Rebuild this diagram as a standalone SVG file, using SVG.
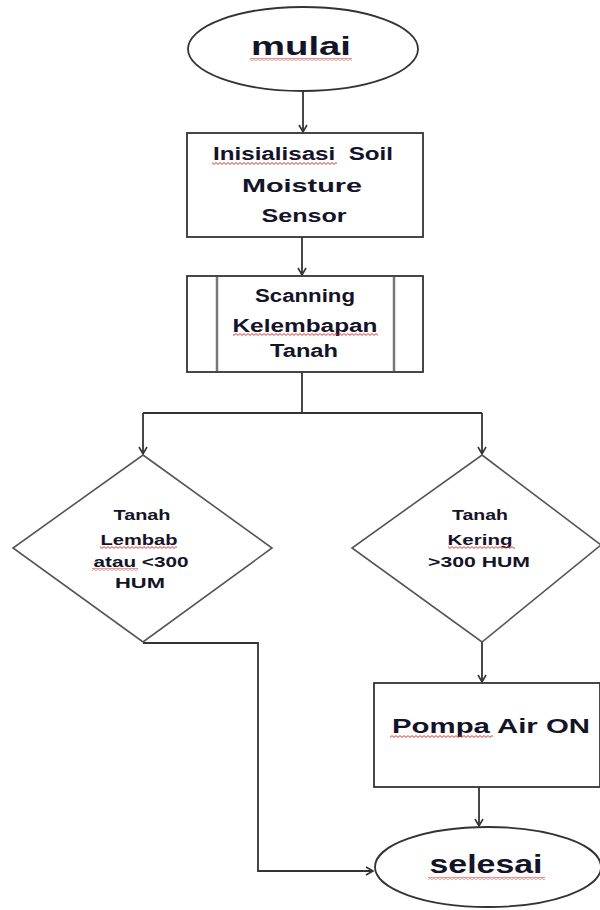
<svg xmlns="http://www.w3.org/2000/svg" width="600" height="910" viewBox="0 0 600 910">
<style>
.shape{fill:#fff;stroke:#333;stroke-width:1.8}
.dia{fill:#fff;stroke:#555;stroke-width:1.6}
.inner{stroke:#777;stroke-width:2.5}
.conn{fill:none;stroke:#333;stroke-width:1.8}
text{font-family:"Liberation Sans",Arial,sans-serif;font-weight:bold;fill:#141428;text-anchor:middle;white-space:pre}
.t1{font-size:25px}
.t2{font-size:18px}
.t3{font-size:14px}
.t4{font-size:20px}
.sq{fill:url(#squig)}
</style>
<defs>
<marker id="arr" markerWidth="12" markerHeight="12" refX="8" refY="5" orient="auto" markerUnits="userSpaceOnUse">
<path d="M1,1 L8,5 L1,9" fill="none" stroke="#333" stroke-width="1.6"/>
</marker>
<pattern id="squig" width="4" height="3" patternUnits="userSpaceOnUse">
<path d="M0,0.6 L2,2.4 L4,0.6" fill="none" stroke="#e02020" stroke-width="0.9"/>
</pattern>
</defs>
<g id="connectors">
<path class="conn" d="M303,91 V132" marker-end="url(#arr)"/>
<path class="conn" d="M302,237 V275" marker-end="url(#arr)"/>
<path class="conn" d="M302,372 V413 M143,413 H482"/>
<path class="conn" d="M143,413 V454" marker-end="url(#arr)"/>
<path class="conn" d="M482,413 V454" marker-end="url(#arr)"/>
<path class="conn" d="M482,642 V682" marker-end="url(#arr)"/>
<path class="conn" d="M479,787 V826" marker-end="url(#arr)"/>
<path class="conn" d="M143,643 H258 V871 H373" marker-end="url(#arr)"/>
</g>
<g id="mulai">
<ellipse class="shape" cx="303" cy="49" rx="115" ry="42"/>
<text class="t1" x="301" y="55" textLength="100" lengthAdjust="spacingAndGlyphs">mulai</text>
<rect class="sq" x="250" y="58" width="102" height="3"/>
</g>
<g id="inisialisasi">
<rect class="shape" x="187" y="133" width="236" height="104"/>
<text class="t2" x="303" y="160" textLength="180" lengthAdjust="spacingAndGlyphs" xml:space="preserve">Inisialisasi  Soil</text>
<text class="t2" x="302" y="192" textLength="120" lengthAdjust="spacingAndGlyphs">Moisture</text>
<text class="t2" x="304" y="222" textLength="85" lengthAdjust="spacingAndGlyphs">Sensor</text>
<rect class="sq" x="212" y="162" width="125" height="3"/>
</g>
<g id="scanning">
<rect class="shape" x="187" y="276" width="236" height="96"/>
<line class="inner" x1="217" y1="277" x2="217" y2="371"/>
<line class="inner" x1="394" y1="277" x2="394" y2="371"/>
<text class="t2" x="305" y="302" textLength="100" lengthAdjust="spacingAndGlyphs">Scanning</text>
<text class="t2" x="305" y="332" textLength="145" lengthAdjust="spacingAndGlyphs">Kelembapan</text>
<text class="t2" x="304" y="357" textLength="68" lengthAdjust="spacingAndGlyphs">Tanah</text>
<rect class="sq" x="233" y="333" width="145" height="3"/>
</g>
<g id="lembab">
<polygon class="dia" points="143,455 272,548 143,642 13,548"/>
<text class="t3" x="142" y="520" textLength="57" lengthAdjust="spacingAndGlyphs">Tanah</text>
<text class="t3" x="139" y="545" textLength="77" lengthAdjust="spacingAndGlyphs">Lembab</text>
<text class="t3" x="141" y="567" textLength="95" lengthAdjust="spacingAndGlyphs">atau &lt;300</text>
<text class="t3" x="140" y="588" textLength="50" lengthAdjust="spacingAndGlyphs">HUM</text>
<rect class="sq" x="100" y="546" width="77" height="3"/>
<rect class="sq" x="92" y="568" width="46" height="3"/>
</g>
<g id="kering">
<polygon class="dia" points="482,455 601,545 482,642 352,548"/>
<text class="t3" x="480" y="520" textLength="56" lengthAdjust="spacingAndGlyphs">Tanah</text>
<text class="t3" x="480" y="545" textLength="65" lengthAdjust="spacingAndGlyphs">Kering</text>
<text class="t3" x="479" y="567" textLength="102" lengthAdjust="spacingAndGlyphs">&gt;300 HUM</text>
<rect class="sq" x="448" y="546" width="67" height="3"/>
</g>
<g id="pompa">
<rect class="shape" x="374" y="683" width="226" height="104"/>
<text class="t4" x="491" y="733" textLength="198" lengthAdjust="spacingAndGlyphs">Pompa Air ON</text>
<rect class="sq" x="390" y="735" width="103" height="3"/>
</g>
<g id="selesai">
<ellipse class="shape" cx="488" cy="867" rx="113" ry="40"/>
<text class="t1" x="486" y="873" textLength="113" lengthAdjust="spacingAndGlyphs">selesai</text>
<rect class="sq" x="428" y="877" width="117" height="3"/>
</g>
</svg>
